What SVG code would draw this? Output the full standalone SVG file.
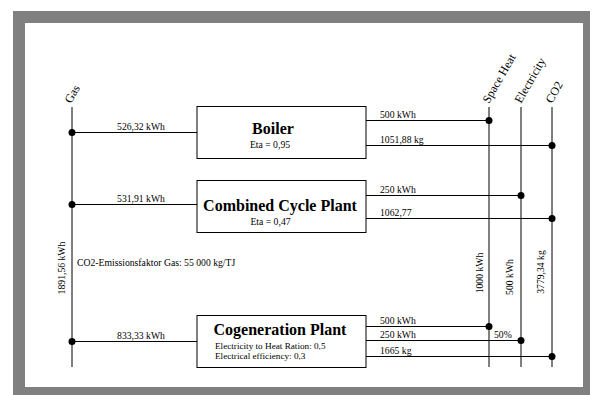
<svg xmlns="http://www.w3.org/2000/svg" width="597" height="395" viewBox="0 0 597 395">
<style>
.t{font-family:"Liberation Serif","Times New Roman",serif;font-size:9.7px;fill:#000}
.s{font-family:"Liberation Serif","Times New Roman",serif;font-size:9.2px;fill:#000}
.b{font-family:"Liberation Serif","Times New Roman",serif;font-size:16px;font-weight:bold;fill:#000;text-anchor:middle}
.h{font-family:"Liberation Serif","Times New Roman",serif;font-size:12px;fill:#000}
.m{text-anchor:middle}
.box{fill:#fff;stroke:#000;stroke-width:1}
.ln{stroke:#000;stroke-width:1;fill:none}
.dot{fill:#000}
</style>
<rect x="13" y="11" width="577" height="384" fill="#808080"/>
<rect x="25" y="23" width="558" height="364" fill="#fff"/>
<g id="connectors">
<line class="ln" x1="72" y1="107" x2="72" y2="367"/>
<line class="ln" x1="489" y1="107" x2="489" y2="367"/>
<line class="ln" x1="521" y1="107" x2="521" y2="367"/>
<line class="ln" x1="552" y1="107" x2="552" y2="367"/>
<line class="ln" x1="72" y1="132.5" x2="197" y2="132.5"/>
<line class="ln" x1="72" y1="204.5" x2="197" y2="204.5"/>
<line class="ln" x1="72" y1="341.5" x2="197" y2="341.5"/>
<line class="ln" x1="366" y1="120.5" x2="489" y2="120.5"/>
<line class="ln" x1="366" y1="145.5" x2="552" y2="145.5"/>
<line class="ln" x1="366" y1="195.5" x2="521" y2="195.5"/>
<line class="ln" x1="366" y1="218.5" x2="552" y2="218.5"/>
<line class="ln" x1="366" y1="326.5" x2="489" y2="326.5"/>
<line class="ln" x1="366" y1="340.5" x2="521" y2="340.5"/>
<line class="ln" x1="366" y1="356.5" x2="552" y2="356.5"/>
<circle class="dot" cx="72" cy="132.5" r="3.5"/>
<circle class="dot" cx="72" cy="204.5" r="3.5"/>
<circle class="dot" cx="72" cy="341.5" r="3.5"/>
<circle class="dot" cx="489" cy="120.5" r="3.5"/>
<circle class="dot" cx="552" cy="145.5" r="3.5"/>
<circle class="dot" cx="521" cy="195.5" r="3.5"/>
<circle class="dot" cx="552" cy="218.5" r="3.5"/>
<circle class="dot" cx="489" cy="326.5" r="3.5"/>
<circle class="dot" cx="521" cy="340.5" r="3.5"/>
<circle class="dot" cx="552" cy="356.5" r="3.5"/>
<text class="t m" x="141" y="130">526,32 kWh</text>
<text class="t m" x="141" y="202">531,91 kWh</text>
<text class="t m" x="141" y="339">833,33 kWh</text>
<text class="t" x="380" y="117.5">500 kWh</text>
<text class="t" x="380" y="143">1051,88 kg</text>
<text class="t" x="380" y="192.5">250 kWh</text>
<text class="t" x="380" y="216">1062,77</text>
<text class="t" x="380" y="323.5">500 kWh</text>
<text class="t" x="380" y="337.5">250 kWh</text>
<text class="t" x="380" y="354">1665 kg</text>
<text class="t" x="494" y="337.5">50%</text>
<text class="t m" transform="translate(483,273) rotate(-90)">1000 kWh</text>
<text class="t m" transform="translate(513,277) rotate(-90)">500 kWh</text>
<text class="t m" transform="translate(544,272) rotate(-90)">3779,34 kg</text>
<text class="t m" transform="translate(65,268) rotate(-90)">1891,56 kWh</text>
<text class="t" x="77" y="266">CO2-Emissionsfaktor Gas: 55 000 kg/TJ</text>
</g>
<g id="gas"><text class="h" transform="translate(71,104) rotate(-60)">Gas</text></g>
<g id="space-heat"><text class="h" transform="translate(489,104) rotate(-60)">Space Heat</text></g>
<g id="electricity"><text class="h" transform="translate(521,104) rotate(-60)">Electricity</text></g>
<g id="co2"><text class="h" transform="translate(552,104) rotate(-60)">CO2</text></g>
<g id="boiler">
<rect class="box" x="197" y="106.5" width="169" height="52"/>
<text class="b" x="273" y="134">Boiler</text>
<text class="t m" x="270" y="148">Eta = 0,95</text>
</g>
<g id="combined-cycle">
<rect class="box" x="197" y="180.5" width="169" height="52"/>
<text class="b" x="280" y="210.5">Combined Cycle Plant</text>
<text class="t m" x="270.5" y="225">Eta = 0,47</text>
</g>
<g id="cogeneration">
<rect class="box" x="197" y="315.5" width="169" height="52"/>
<text class="b" x="280" y="335">Cogeneration Plant</text>
<text class="s" x="215" y="349">Electricity to Heat Ration: 0,5</text>
<text class="s" x="215" y="358.6">Electrical efficiency: 0,3</text>
</g>
</svg>
